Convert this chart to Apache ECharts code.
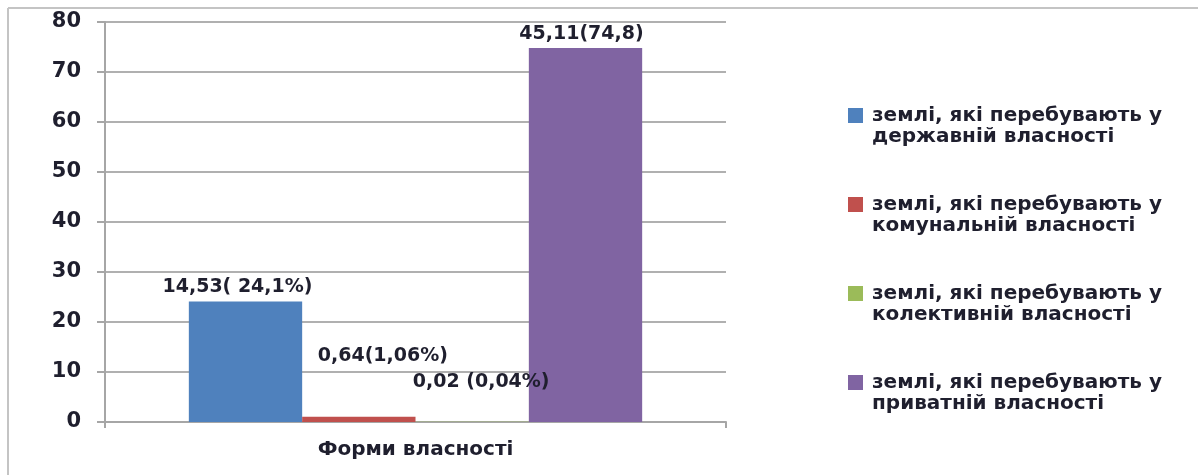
<!DOCTYPE html>
<html>
<head>
<meta charset="utf-8">
<script src="https://cdn.jsdelivr.net/npm/echarts@6/dist/echarts.min.js"></script>
<style>
  html, body { margin: 0; padding: 0; background: #fff; }
  #chart { width: 1198px; height: 475px; }
</style>
</head>
<body>
<div id="chart"></div>
<script>
const CATEGORIES = ['Форми власності'];

const SERIES_NAMES = [
    'землі, які перебувають у\nдержавній власності',
    'землі, які перебувають у\nкомунальній власності',
    'землі, які перебувають у\nколективній власності',
    'землі, які перебувають у\nприватній власності'
];

// share of land, %
const SERIES_VALUES = [24.1, 1.06, 0.04, 74.8];

const SERIES_LABELS = ['14,53( 24,1%)', '0,64(1,06%)', '0,02 (0,04%)', '45,11(74,8)'];

const SERIES_COLORS = ['#4F81BD', '#C0504D', '#9BBB59', '#8064A2'];

const Y_TICKS = { min: 0, max: 80, interval: 10 };

// label nudges, as placed in the original
const LABEL_OFFSETS = [[-8, 0], [24, -46], [9, -25], [-4, 1]];

const FONT = 'DejaVu Sans';
const TEXT_COLOR = '#1f1f2e';
const FRAME = '#c4c4c4';

const chart = echarts.init(document.getElementById('chart'), null, { renderer: 'canvas' });

const series = SERIES_NAMES.map((name, i) => ({
    name: name,
    type: 'bar',
    data: [SERIES_VALUES[i]],
    barGap: '0%',
    barCategoryGap: '27%',
    itemStyle: { color: SERIES_COLORS[i] },
    label: {
        show: true,
        position: 'top',
        distance: 5,
        offset: LABEL_OFFSETS[i],
        formatter: () => SERIES_LABELS[i],
        fontFamily: FONT,
        fontSize: 19,
        fontWeight: 'bold',
        color: TEXT_COLOR
    }
}));

chart.setOption({
    animation: false,
    backgroundColor: '#fff',
    graphic: [
        {
            type: 'line', silent: true,
            shape: { x1: 8, y1: 8, x2: 1198, y2: 8 },
            style: { stroke: FRAME, lineWidth: 2 }
        },
        {
            type: 'line', silent: true,
            shape: { x1: 8, y1: 8, x2: 8, y2: 475 },
            style: { stroke: FRAME, lineWidth: 2 }
        }
    ],
    legend: {
        orient: 'vertical',
        left: 848,
        top: 84,
        padding: 0,
        itemWidth: 15,
        itemHeight: 15,
        itemGap: 26,
        icon: 'rect',
        // leading blank line keeps the swatch level with the first text line
        formatter: name => '\n' + name,
        textStyle: {
            fontFamily: FONT,
            fontSize: 20,
            fontWeight: 'bold',
            lineHeight: 21,
            color: TEXT_COLOR,
            padding: [0, 0, 0, 4]
        },
        data: SERIES_NAMES
    },
    grid: { left: 105, right: 472, top: 22, bottom: 53, containLabel: false },
    xAxis: {
        type: 'category',
        data: CATEGORIES,
        axisLine: { lineStyle: { color: '#a6a6a6', width: 2 } },
        axisTick: { show: true, length: 6, lineStyle: { color: '#a6a6a6', width: 2 } },
        axisLabel: {
            margin: 18,
            fontFamily: FONT,
            fontSize: 20,
            fontWeight: 'bold',
            color: TEXT_COLOR
        }
    },
    yAxis: {
        type: 'value',
        min: Y_TICKS.min,
        max: Y_TICKS.max,
        interval: Y_TICKS.interval,
        axisLine: { show: true, lineStyle: { color: '#a6a6a6', width: 2 } },
        axisTick: { show: true, length: 8, lineStyle: { color: '#a6a6a6', width: 2 } },
        splitLine: { lineStyle: { color: '#b0b0b0', width: 2 } },
        axisLabel: {
            margin: 24,
            fontFamily: FONT,
            fontSize: 21,
            fontWeight: 'bold',
            color: TEXT_COLOR
        }
    },
    series: series
});
</script>
</body>
</html>
